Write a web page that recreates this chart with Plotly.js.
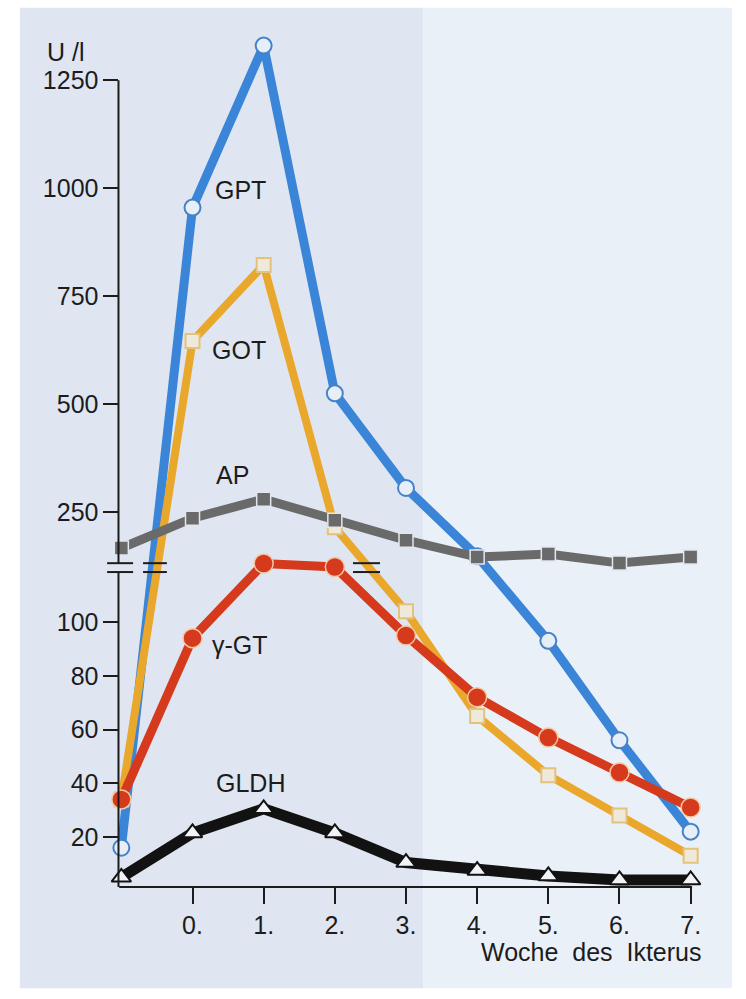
<!DOCTYPE html>
<html>
<head>
<meta charset="utf-8">
<script src="https://cdn.plot.ly/plotly-3.0.1.min.js"></script>
<style>
  html, body { margin: 0; padding: 0; background: #ffffff; }
  #chart { width: 746px; height: 999px; }
</style>
</head>
<body>
<div id="chart"></div>
<script>
// ---- data (U/l) ----
const weeks = [-1, 0, 1, 2, 3, 4, 5, 6, 7];
const weekTickVals = [0, 1, 2, 3, 4, 5, 6, 7];
const weekTickText = ["0.", "1.", "2.", "3.", "4.", "5.", "6.", "7."];

const gptValues  = [16, 955, 1330, 525, 306, 148, 93, 56, 22];
const gotValues  = [34, 646, 822, 215, 104, 65, 43, 28, 13];
const ggtValues  = [34, 94, 131, 123, 95, 72, 57, 44, 31];
const apValues   = [167, 236, 280, 231, 185, 146, 153, 132, 146];
const gldhValues = [5, 21.5, 30.5, 21.5, 10.5, 7.5, 5.5, 4, 4];

const lowerTicks = [20, 40, 60, 80, 100];
const upperTicks = [250, 500, 750, 1000, 1250];

const seriesNames = ["GPT", "GOT", "γ-GT", "AP", "GLDH"];

// ---- broken axis: linear below the break, compressed above it ----
const BREAK = 120;
const UPPER_SCALE = 0.432 / 2.6875;
function axisPos(v) { return v <= BREAK ? v : BREAK + (v - BREAK) * UPPER_SCALE; }
const mapAll = arr => arr.map(axisPos);

const FONT = "Liberation Sans, Arial, Helvetica, sans-serif";
const INK = "#1c1c1c";
const FS = 25;

function series(name, values, color, width, marker) {
  return {
    type: "scatter", mode: "lines+markers", name: name,
    x: weeks, y: mapAll(values),
    line: { color: color, width: width, shape: "linear" },
    marker: marker,
    cliponaxis: false, hoverinfo: "skip"
  };
}

const traces = [
  series("GPT", gptValues, "#3a85d8", 9,
    { symbol: "circle", size: 16, color: "#e6eef8", line: { color: "#4682c8", width: 2 } }),
  series("GOT", gotValues, "#e9a72c", 8,
    { symbol: "square", size: 14, color: "#efe9dc", line: { color: "#e3c27c", width: 2 } }),
  series("γ-GT", ggtValues, "#d53a1d", 9,
    { symbol: "circle", size: 19, color: "#d53a1d", line: { color: "#f4c8a2", width: 1.5 } }),
  series("AP", apValues, "#6a6a6a", 9,
    { symbol: "square", size: 14, color: "#6a6a6a", line: { color: "#e2e6ee", width: 1.5 } }),
  series("GLDH", gldhValues, "#121212", 11,
    { symbol: "triangle-up", size: 17, color: "#f1f3f6", line: { color: "#121212", width: 2 } })
];

// break marks (display units)
const BREAK_TOP = 121.9, BREAK_BOT = 118.6;
const AXIS_X = 0.0302; // paper fraction of the y-axis line

const shapes = [
  // page backgrounds
  { type: "rect", xref: "paper", yref: "paper", x0: -0.131, x1: 0.528, y0: -0.118, y1: 1.026,
    fillcolor: "#dfe6f2", line: { width: 0 }, layer: "below" },
  { type: "rect", xref: "paper", yref: "paper", x0: 0.528, x1: 1.033, y0: -0.118, y1: 1.026,
    fillcolor: "#eaf0f8", line: { width: 0 }, layer: "below" },
  // y-axis line in two parts
  { type: "line", xref: "paper", yref: "y", x0: AXIS_X, x1: AXIS_X, y0: axisPos(1250), y1: BREAK_TOP,
    line: { color: INK, width: 2 } },
  { type: "line", xref: "paper", yref: "y", x0: AXIS_X, x1: AXIS_X, y0: BREAK_BOT, y1: 1.4,
    line: { color: INK, width: 2 } },
  // x-axis line
  { type: "line", xref: "x", yref: "paper", x0: -1.03, x1: 7.02, y0: 0, y1: 0,
    line: { color: INK, width: 2 } }
];
[[-1.2, -0.835], [-0.695, -0.36], [2.255, 2.635]].forEach(([a, b]) => {
  [BREAK_TOP, BREAK_BOT].forEach(yy => {
    shapes.push({ type: "line", xref: "x", yref: "y", x0: a, x1: b, y0: yy, y1: yy,
      line: { color: INK, width: 2 } });
  });
});

const labelPos = [[0.67, 995], [0.655, 625], [0.67, 91.4], [0.56, 336], [0.81, 40.1]];
const annotations = seriesNames.map((n, i) => ({
  text: n, x: labelPos[i][0], y: axisPos(labelPos[i][1]), xref: "x", yref: "y",
  xanchor: "center", yanchor: "middle",
  showarrow: false, font: { family: FONT, size: FS, color: INK }
}));
annotations.push({
  text: "U /l", xref: "paper", yref: "paper", x: -0.0556, y: 0.974,
  xanchor: "center", yanchor: "middle",
  showarrow: false, font: { family: FONT, size: FS, color: INK }
});
annotations.push({
  text: "Woche\u00a0 des\u00a0 Ikterus", xref: "paper", yref: "paper", x: 0.985, y: -0.0758,
  xanchor: "right", yanchor: "middle", showarrow: false,
  font: { family: FONT, size: FS, color: INK }
});

const layout = {
  width: 746, height: 999,
  margin: { l: 100, r: 34, t: 30, b: 112 },
  paper_bgcolor: "#ffffff",
  plot_bgcolor: "rgba(0,0,0,0)",
  showlegend: false,
  hovermode: false,
  font: { family: FONT, size: FS, color: INK },
  xaxis: {
    range: [-1.3, 7.3], showgrid: false, zeroline: false, showline: false,
    tickmode: "array", tickvals: weekTickVals, ticktext: weekTickText,
    ticks: "outside", ticklen: 16, tickwidth: 2, tickcolor: INK,
    tickfont: { family: FONT, size: FS, color: INK }
  },
  yaxis: {
    range: [1.4, 320.3], anchor: "free", position: AXIS_X,
    showgrid: false, zeroline: false, showline: false,
    tickmode: "array",
    tickvals: mapAll(lowerTicks.concat(upperTicks)),
    ticktext: lowerTicks.concat(upperTicks).map(String),
    ticks: "outside", ticklen: 15, tickwidth: 2, tickcolor: INK,
    tickfont: { family: FONT, size: FS, color: INK }
  },
  shapes: shapes,
  annotations: annotations
};

Plotly.newPlot("chart", traces, layout, { staticPlot: true, displayModeBar: false });
</script>
</body>
</html>
